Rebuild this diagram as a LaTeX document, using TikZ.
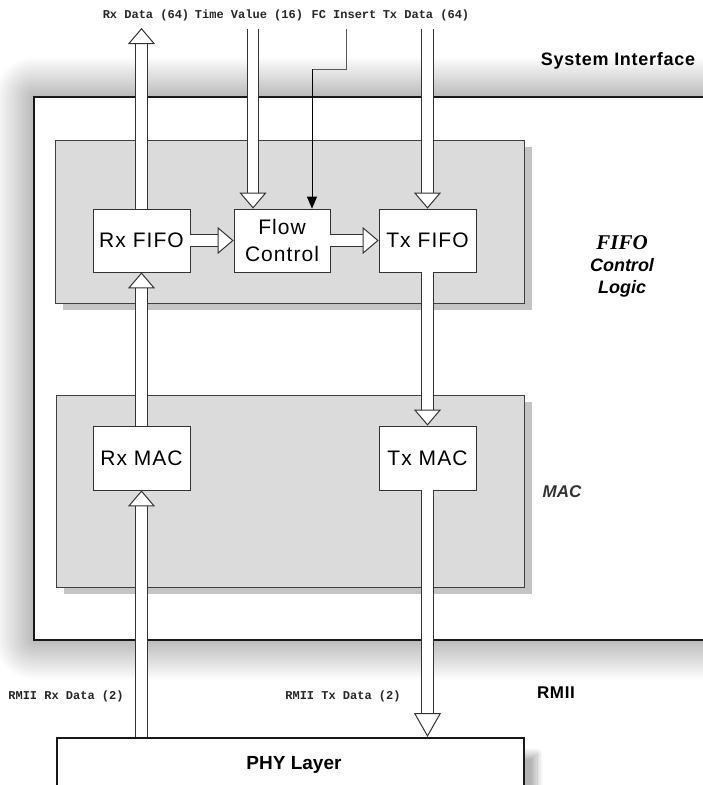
\documentclass[tikz,border=0pt]{standalone}
\usepackage{fontspec}
\setmainfont{Liberation Sans}
\newfontfamily\boxfont[LetterSpace=5]{Liberation Sans}
\newfontfamily\headfont[LetterSpace=4]{Liberation Sans}
\newfontfamily\sigfont{Liberation Mono}
\newfontfamily\romfont{Liberation Serif}
\usetikzlibrary{arrows.meta,positioning,calc,shadows,shadows.blur}

\begin{document}
\begin{tikzpicture}[x=1pt,y=-1pt,
  unit/.style={draw=black!80, line width=0.8pt, fill=white, minimum width=97, minimum height=63, inner sep=0pt, font=\boxfont\fontsize{21}{27}\selectfont, align=center},
  panel/.style={draw=black!75, line width=0.8pt, fill=black!14, drop shadow={shadow xshift=8pt, shadow yshift=-7pt, fill=black!23, opacity=1}},
  fatarrow/.style={draw=black!80, line width=1pt, double=white, double distance=10.5pt, -{Triangle[length=16pt,width=27pt,fill=white,line width=1pt]}},
  sig/.style={font=\sigfont\bfseries\fontsize{12}{12}\selectfont, text=black!85},
  tag/.style={font=\headfont\bfseries\fontsize{18}{20}\selectfont}]
\useasboundingbox (0,0) rectangle (703,785);
\clip (0,0) rectangle (703,785);

%Shape: System interface box
\draw [line width=2pt, draw=black!90, fill=white, blur shadow={shadow xshift=0pt, shadow yshift=0pt, shadow blur radius=40pt, shadow blur steps=40, shadow opacity=55}] (34,97) rectangle (760,640) ;

%Shape: panels
\node [panel, minimum width=469, minimum height=163] (fifopanel) at (289.5,221.5) {};
\node [panel, minimum width=468, minimum height=192] (macpanel) at (290,491) {};

%Shape: PHY box
\node [draw=black!90, line width=2pt, fill=white, minimum width=467, minimum height=62, blur shadow={shadow xshift=13pt, shadow yshift=-16pt, shadow blur radius=6pt, shadow blur steps=12, shadow opacity=30}] (phy) at (290.5,769) {};

% Blocks
\node [unit] (rxfifo) at (141.5,240.5) {Rx FIFO};
\node [unit, minimum width=96] (flow) at (282,240.5) {Flow\\Control};
\node [unit] (txfifo) at (427.5,240.5) {Tx FIFO};
\node [unit, minimum height=64] (rxmac) at (141.5,458) {Rx MAC};
\node [unit, minimum height=64] (txmac) at (427.5,458) {Tx MAC};

% Text Node
\node [sig] (rxdata) at (146,15) {Rx Data (64)};
\node [sig] (tval) at (249,15) {Time Value (16)};
\node [sig] (fcins) at (344,15) {FC Insert};
\node [sig] (txdata) at (426,15) {Tx Data (64)};
\node [sig] (rmiirx) at (66,696) {RMII Rx Data (2)};
\node [sig] (rmiitx) at (343,696) {RMII Tx Data (2)};
\node [tag] (sysif) at (618,61) {System Interface};
\node [tag, font=\headfont\bfseries\fontsize{17}{20}\selectfont] (rmii) at (556,693) {RMII};
\node [tag, font=\bfseries\fontsize{19}{20}\selectfont] (phylabel) at (294,765) {PHY Layer};
\node [font=\bfseries\itshape\fontsize{17}{20}\selectfont, text=black!80] (mac) at (562,492) {MAC};
\node [align=center, font=\bfseries\itshape\fontsize{18}{22}\selectfont] (fifologic) at (622,266) {{\romfont\fontsize{21}{22}\selectfont FIFO}\\Control\\Logic};

% Connectors
\coordinate (rxout) at (141.5,28);
\coordinate (tvin) at (253,29);
\coordinate (fctop) at (346,29);
\coordinate (fcbend) at (346,69);
\coordinate (txin) at (427.5,29);

\draw [fatarrow] (rxfifo.north) -- (rxout);
\draw [fatarrow] (tvin) -- (tvin |- flow.north);
\draw [draw=black!65, line width=0.8pt] (fctop) -- (fcbend) -- (fcbend -| 312,0);
\draw [black, line width=0.8pt, -{Triangle[length=12pt,width=10pt]}] (312,69) -- (312,0 |- flow.north);
\draw [fatarrow] (txin) -- (txfifo.north);
\draw [fatarrow] (rxfifo.east) -- (flow.west);
\draw [fatarrow] (flow.east) -- (txfifo.west);
\draw [fatarrow] (txfifo.south) -- (txmac.north);
\draw [fatarrow] (rxmac.north) -- (rxfifo.south);
\draw [fatarrow] (rxmac.south |- phy.north) -- (rxmac.south);
\draw [fatarrow, -{Triangle[length=24pt,width=27pt,fill=white,line width=1pt]}] (txmac.south) -- (txmac.south |- phy.north);

\end{tikzpicture}
\end{document}
